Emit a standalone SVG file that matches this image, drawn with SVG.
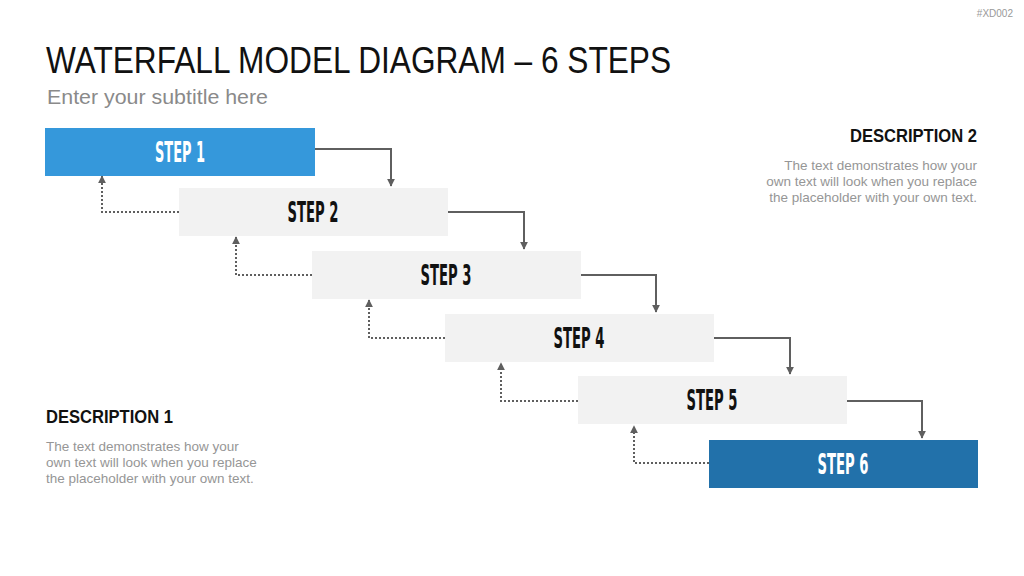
<svg xmlns="http://www.w3.org/2000/svg" width="1024" height="576" viewBox="0 0 1024 576">
<style>
.box{fill:#F2F2F2}
.lbl{font-family:"Liberation Sans Narrow","DejaVu Sans Condensed","Liberation Sans",sans-serif;font-weight:bold;font-size:29px;text-anchor:middle;fill:#111}
.w{fill:#fff}
.solid{fill:none;stroke:#5f5f5f;stroke-width:2}
.dot{fill:none;stroke:#5f5f5f;stroke-width:2;stroke-dasharray:2 2}
.head{font-family:"Liberation Sans","Open Sans",sans-serif;font-weight:bold;font-size:18px;fill:#111}
.body{font-family:"Liberation Sans","Open Sans",sans-serif;font-size:13.5px;fill:#969696}
</style>
<defs>
<marker id="ah" viewBox="0 0 10 10" refX="9" refY="5" markerWidth="4" markerHeight="4" orient="auto" markerUnits="strokeWidth">
<path d="M0,0 L10,5 L0,10 z" fill="#5f5f5f"/>
</marker>
</defs>
<rect width="1024" height="576" fill="#fff"/>
<text x="1013" y="17" font-family="Liberation Sans,sans-serif" font-size="10" fill="#999" text-anchor="end">#XD002</text>
<text x="46" y="73" font-family="Liberation Sans,sans-serif" font-size="36" fill="#111" textLength="625" lengthAdjust="spacingAndGlyphs">WATERFALL MODEL DIAGRAM – 6 STEPS</text>
<text x="47" y="104" font-family="Liberation Sans,sans-serif" font-size="21" fill="#8a8a8a" textLength="221" lengthAdjust="spacingAndGlyphs">Enter your subtitle here</text>

<g id="connectors">
<path class="solid" d="M315,149 H391 V186" marker-end="url(#ah)"/>
<path class="solid" d="M448,212 H524 V249" marker-end="url(#ah)"/>
<path class="solid" d="M581,275 H656 V312" marker-end="url(#ah)"/>
<path class="solid" d="M714,338 H790 V374" marker-end="url(#ah)"/>
<path class="solid" d="M847,401 H922 V438" marker-end="url(#ah)"/>
<path class="dot" d="M179,212 H102 V176" marker-end="url(#ah)"/>
<path class="dot" d="M312,275 H236 V237" marker-end="url(#ah)"/>
<path class="dot" d="M445,338 H369 V300" marker-end="url(#ah)"/>
<path class="dot" d="M578,401 H501 V363" marker-end="url(#ah)"/>
<path class="dot" d="M709,463 H634 V426" marker-end="url(#ah)"/>
</g>

<g id="step1"><rect x="45" y="128" width="270" height="48" fill="#3598DB"/><text class="lbl w" x="180" y="162" textLength="50" lengthAdjust="spacingAndGlyphs">STEP 1</text></g>
<g id="step2"><rect class="box" x="179" y="188" width="269" height="48"/><text class="lbl" x="313" y="222" textLength="51" lengthAdjust="spacingAndGlyphs">STEP 2</text></g>
<g id="step3"><rect class="box" x="312" y="251" width="269" height="48"/><text class="lbl" x="446" y="285" textLength="51" lengthAdjust="spacingAndGlyphs">STEP 3</text></g>
<g id="step4"><rect class="box" x="445" y="314" width="269" height="48"/><text class="lbl" x="579" y="348" textLength="51" lengthAdjust="spacingAndGlyphs">STEP 4</text></g>
<g id="step5"><rect class="box" x="578" y="376" width="269" height="48"/><text class="lbl" x="712" y="410" textLength="51" lengthAdjust="spacingAndGlyphs">STEP 5</text></g>
<g id="step6"><rect x="709" y="440" width="269" height="48" fill="#2271AA"/><text class="lbl w" x="843" y="474" textLength="51" lengthAdjust="spacingAndGlyphs">STEP 6</text></g>

<g id="desc2">
<text class="head" x="977" y="142" text-anchor="end" textLength="127" lengthAdjust="spacingAndGlyphs">DESCRIPTION 2</text>
<text class="body" text-anchor="end"><tspan x="977" y="170">The text demonstrates how your</tspan><tspan x="977" y="186">own text will look when you replace</tspan><tspan x="977" y="202">the placeholder with your own text.</tspan></text>
</g>
<g id="desc1">
<text class="head" x="46" y="423" textLength="127" lengthAdjust="spacingAndGlyphs">DESCRIPTION 1</text>
<text class="body"><tspan x="46" y="451">The text demonstrates how your</tspan><tspan x="46" y="467">own text will look when you replace</tspan><tspan x="46" y="483">the placeholder with your own text.</tspan></text>
</g>
</svg>
